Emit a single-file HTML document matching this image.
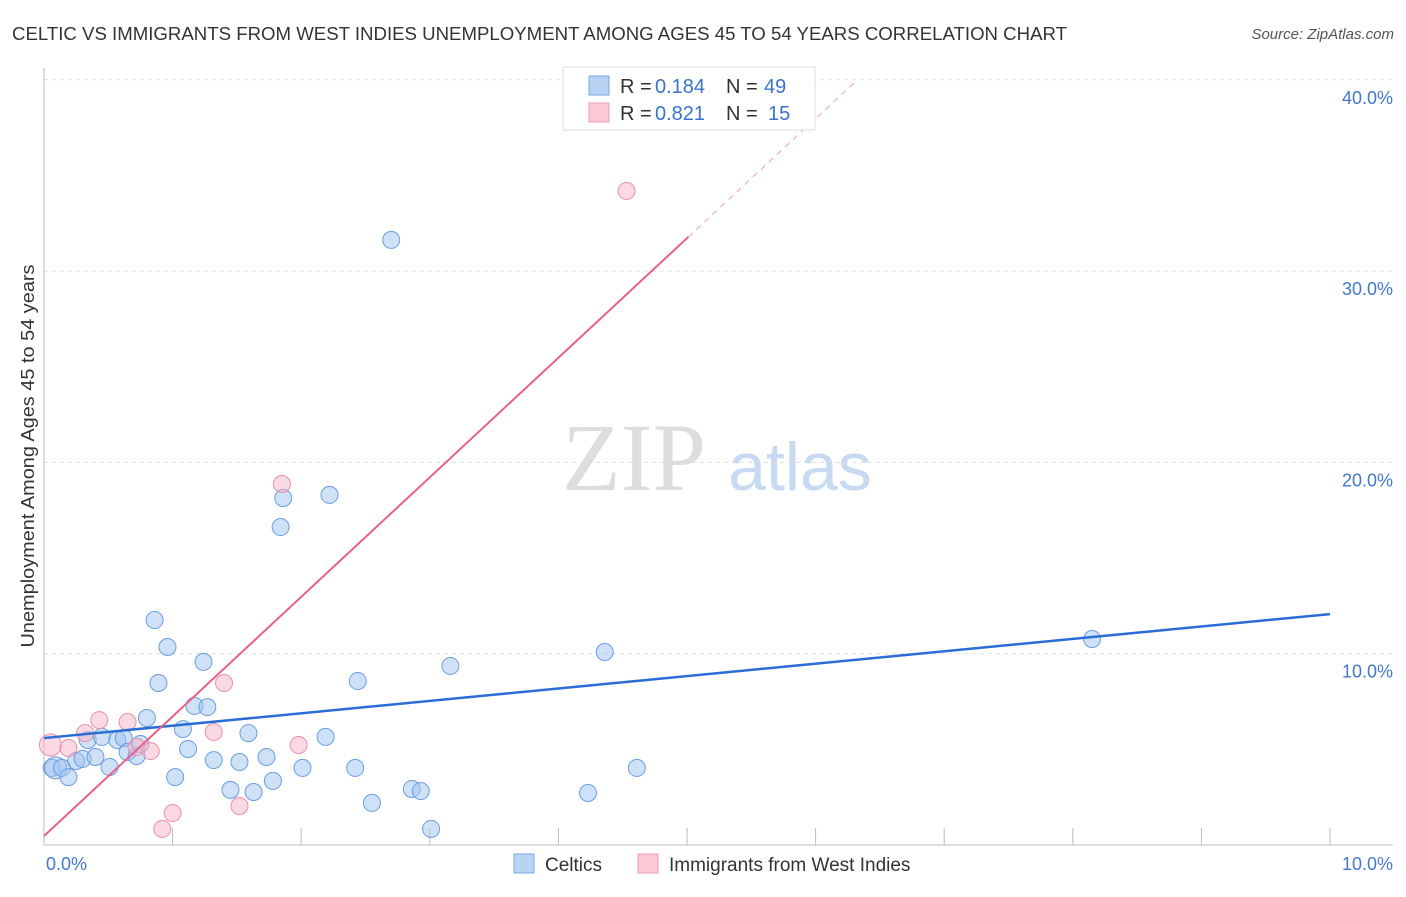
<!DOCTYPE html>
<html><head><meta charset="utf-8"><style>
body{margin:0;background:#fff;font-family:"Liberation Sans",sans-serif;}
svg text{font-family:"Liberation Sans",sans-serif;}
</style></head><body>
<svg id="chart" width="1406" height="892">
<text x="12" y="40" font-size="18" fill="#333" textLength="1055" lengthAdjust="spacingAndGlyphs">CELTIC VS IMMIGRANTS FROM WEST INDIES UNEMPLOYMENT AMONG AGES 45 TO 54 YEARS CORRELATION CHART</text>
<text x="1394" y="39" font-size="15" fill="#555" font-style="italic" text-anchor="end">Source: ZipAtlas.com</text>
<text x="634" y="490" font-size="96" fill="#ddd" text-anchor="middle" style="font-family:'Liberation Serif',serif">ZIP</text>
<text x="800" y="490" font-size="68" fill="#c8daf2" text-anchor="middle">atlas</text>
<g id="grid"></g>
<g id="marks"></g>
<text transform="translate(34,456) rotate(-90)" font-size="18" fill="#333" text-anchor="middle" textLength="383" lengthAdjust="spacingAndGlyphs">Unemployment Among Ages 45 to 54 years</text>
<text x="46" y="870" font-size="18" fill="#4477cc">0.0%</text>
<text x="1393" y="870" font-size="18" fill="#4477cc" text-anchor="end">10.0%</text>
<g>
<rect x="563" y="67" width="252" height="63" fill="#fff" stroke="#ddd"/>
<rect x="589" y="76" width="20" height="19" fill="#b9d3f5" stroke="#7aa6e0"/>
<rect x="589" y="103" width="20" height="19" fill="#fbc9d6" stroke="#eba0b6"/>
<text x="620" y="93" font-size="20" fill="#333">R =</text>
<text x="655" y="93" font-size="20" fill="#3b73cc">0.184</text>
<text x="726" y="93" font-size="20" fill="#333">N =</text>
<text x="764" y="93" font-size="20" fill="#3b73cc">49</text>
<text x="620" y="120" font-size="20" fill="#333">R =</text>
<text x="655" y="120" font-size="20" fill="#3b73cc">0.821</text>
<text x="726" y="120" font-size="20" fill="#333">N =</text>
<text x="768" y="120" font-size="20" fill="#3b73cc">15</text>
</g>
<g>
<rect x="514" y="854" width="20" height="19" fill="#b9d3f5" stroke="#7aa6e0"/>
<text x="545" y="871" font-size="19" fill="#333">Celtics</text>
<rect x="638" y="854" width="20" height="19" fill="#fbc9d6" stroke="#eba0b6"/>
<text x="669" y="871" font-size="19" fill="#333">Immigrants from West Indies</text>
</g>
</svg>
<script>
const yTicks=[10,20,30,40];
const yTickLabels=["10.0%","20.0%","30.0%","40.0%"];
const celticX=[0.06,0.09,0.14,0.19,0.25,0.30,0.34,0.40,0.45,0.51,0.57,0.62,0.65,0.72,0.75,0.80,0.86,0.89,0.96,1.02,1.08,1.12,1.17,1.24,1.27,1.32,1.45,1.52,1.59,1.63,1.73,1.78,1.84,1.86,2.01,2.19,2.22,2.42,2.44,2.55,2.70,2.86,2.93,3.01,3.16,4.23,4.36,4.61,8.15];
const celticY=[4.03,4.03,4.03,3.55,4.39,4.50,5.49,4.60,5.65,4.08,5.49,5.59,4.86,4.65,5.28,6.64,11.76,8.47,10.35,3.55,6.06,5.02,7.27,9.57,7.21,4.44,2.88,4.34,5.85,2.77,4.60,3.35,16.62,18.14,4.03,5.65,18.30,4.03,8.57,2.20,31.63,2.93,2.82,0.84,9.36,2.72,10.09,4.03,10.77];
const wiX=[0.05,0.19,0.32,0.43,0.65,0.72,0.83,0.92,1.00,1.32,1.40,1.52,1.85,1.98,4.53];
const wiY=[5.23,5.07,5.85,6.53,6.43,5.12,4.91,0.84,1.67,5.91,8.47,2.04,18.87,5.23,34.19];
const celticTrend=[5.59,12.07];
const wiTrend=[0.47,6.25];
const xS=v=>44+v*128.6, yS=v=>845-v*19.13;
const NS="http://www.w3.org/2000/svg";
function mk(p,t,a){const e=document.createElementNS(NS,t);for(const k in a)e.setAttribute(k,a[k]);p.appendChild(e);return e;}
const g=document.getElementById('grid'), m=document.getElementById('marks');
yTicks.forEach((t,i)=>{
 const l=mk(g,'line',{x1:44,x2:1393,y1:yS(t),y2:yS(t),stroke:'#ddd','stroke-dasharray':'4,4'});
 
 
 const tx=mk(g,'text',{x:1393,y:yS(t)+24,'font-size':18,fill:'#4477cc','text-anchor':'end'});
 tx.textContent=yTickLabels[i];
 
 
});
for(let i=0;i<=10;i++){const t=mk(g,'line',{x1:xS(i),x2:xS(i),y1:i==0?68:828,y2:845,stroke:'#bbb'});
 
 }
const ax=mk(g,'line',{x1:44,x2:1393,y1:845,y2:845,stroke:'#bbb'});


celticX.forEach((x,i)=>{const c=mk(m,'circle',{cx:xS(x),cy:yS(celticY[i]),r:i==1?11:8.5,fill:'rgba(160,195,240,0.5)',stroke:'#6a9de0','stroke-width':1});
 
 });
wiX.forEach((x,i)=>{const c=mk(m,'circle',{cx:xS(x),cy:yS(wiY[i]),r:i==0?11:8.5,fill:'rgba(248,180,200,0.5)',stroke:'#e890aa','stroke-width':1});
 
 });
const bl=mk(m,'line',{x1:xS(0),y1:yS(celticTrend[0]),x2:xS(10),y2:yS(celticTrend[1]),stroke:'#2a6dd6','stroke-width':2.5});


const xe=5.01, xd=(40-wiTrend[0])/wiTrend[1];
const pl=mk(m,'line',{x1:xS(0),y1:yS(wiTrend[0]),x2:xS(xe),y2:yS(wiTrend[0]+wiTrend[1]*xe),stroke:'#e8608a','stroke-width':2});


const pd=mk(m,'line',{x1:xS(xe),y1:yS(wiTrend[0]+wiTrend[1]*xe),x2:xS(xd),y2:yS(40),stroke:'#eba0b6','stroke-width':1,'stroke-dasharray':'6,5'});


</script>
</body></html>
